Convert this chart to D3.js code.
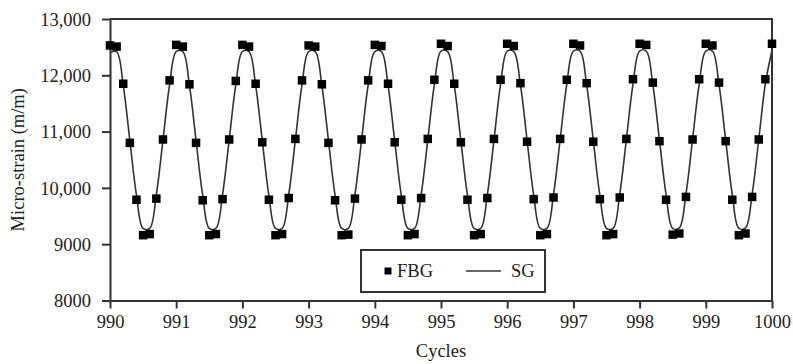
<!DOCTYPE html>
<html>
<head>
<meta charset="utf-8">
<script src="https://cdn.jsdelivr.net/npm/d3@7"></script>
<style>
  html, body { margin: 0; padding: 0; background: #fff; }
  svg text { font-family: "Liberation Serif", "DejaVu Serif", serif; fill: #222; }
</style>
</head>
<body>
<div id="chart"></div>
<script>
// cycle numbers, each sampled at ten phases
const cycles = [990, 991, 992, 993, 994, 995, 996, 997, 998, 999];
const phases = [0, 0.1, 0.2, 0.3, 0.4, 0.5, 0.6, 0.7, 0.8, 0.9];

// FBG readings (micro-strain), one row per cycle
const fbgValues = [
  [12530, 12510, 11850, 10800, 9790, 9160, 9180, 9810, 10860, 11910],
  [12540, 12510, 11840, 10800, 9780, 9160, 9180, 9800, 10860, 11900],
  [12540, 12510, 11850, 10810, 9790, 9160, 9180, 9820, 10870, 11910],
  [12530, 12510, 11840, 10800, 9780, 9160, 9170, 9810, 10860, 11910],
  [12540, 12520, 11850, 10810, 9790, 9160, 9180, 9820, 10870, 11920],
  [12560, 12520, 11850, 10810, 9790, 9160, 9180, 9820, 10870, 11920],
  [12560, 12520, 11860, 10820, 9800, 9160, 9180, 9830, 10870, 11920],
  [12560, 12530, 11860, 10820, 9800, 9160, 9180, 9830, 10870, 11930],
  [12560, 12540, 11870, 10830, 9790, 9170, 9190, 9840, 10860, 11930],
  [12560, 12530, 11870, 10830, 9790, 9160, 9190, 9840, 10860, 11930]
];
const fbgLast = { cycle: 1000, value: 12560 };

// SG readings (micro-strain), same sampling
const sgValues = [
  [12400, 12420, 11820, 10840, 9870, 9280, 9280, 9880, 10850, 11830],
  [12420, 12420, 11820, 10840, 9870, 9280, 9280, 9880, 10850, 11830],
  [12420, 12420, 11820, 10840, 9870, 9280, 9280, 9880, 10850, 11830],
  [12420, 12420, 11820, 10840, 9870, 9280, 9280, 9880, 10850, 11830],
  [12420, 12420, 11820, 10840, 9870, 9280, 9280, 9880, 10850, 11840],
  [12430, 12420, 11820, 10840, 9870, 9280, 9280, 9880, 10850, 11840],
  [12430, 12420, 11830, 10850, 9870, 9280, 9280, 9890, 10860, 11840],
  [12430, 12430, 11830, 10850, 9870, 9280, 9280, 9890, 10860, 11840],
  [12430, 12430, 11830, 10850, 9880, 9280, 9290, 9890, 10860, 11840],
  [12430, 12430, 11830, 10850, 9880, 9280, 9290, 9890, 10860, 11850]
];
const sgLast = { cycle: 1000, value: 12440 };

const xTicks = [990, 991, 992, 993, 994, 995, 996, 997, 998, 999, 1000];
const yTicks = [8000, 9000, 10000, 11000, 12000, 13000];

const width = 793, height = 364;
const margin = { top: 19, right: 21, bottom: 63.5, left: 110 };
const ink = '#333';

const fbg = [];
const sg = [];
cycles.forEach((c, i) => {
  phases.forEach((p, j) => {
    fbg.push({ x: c + p, y: fbgValues[i][j] });
    sg.push({ x: c + p, y: sgValues[i][j] });
  });
});
fbg.push({ x: fbgLast.cycle, y: fbgLast.value });
sg.push({ x: sgLast.cycle, y: sgLast.value });

const svg = d3.select('#chart').append('svg')
  .attr('width', width)
  .attr('height', height);

const x = d3.scaleLinear().domain([990, 1000]).range([margin.left, width - margin.right]);
const y = d3.scaleLinear().domain([8000, 13000]).range([height - margin.bottom, margin.top]);

const fmt = d => d >= 10000 ? d3.format(',')(d) : String(d);

// frame (top and right)
svg.append('path')
  .attr('d', `M${x(990)},${y(13000)}H${x(1000)}V${y(8000)}`)
  .attr('fill', 'none')
  .attr('stroke', ink)
  .attr('stroke-width', 2);

const xAxis = svg.append('g')
  .attr('transform', `translate(0,${y(8000)})`)
  .call(d3.axisBottom(x).tickValues(xTicks).tickFormat(d3.format('d')).tickSize(8).tickSizeOuter(0));

const yAxis = svg.append('g')
  .attr('transform', `translate(${x(990)},0)`)
  .call(d3.axisLeft(y).tickValues(yTicks).tickFormat(fmt).tickSize(8).tickSizeOuter(0));

[xAxis, yAxis].forEach(g => {
  g.select('.domain').attr('stroke', ink).attr('stroke-width', 2);
  g.selectAll('.tick line').attr('stroke', ink).attr('stroke-width', 2);
  g.selectAll('.tick text')
    .attr('font-family', '"Liberation Serif", serif')
    .attr('font-size', 18.5)
    .attr('fill', '#222');
});
xAxis.selectAll('.tick text').attr('dy', '0.71em').attr('y', 14);
yAxis.selectAll('.tick text').attr('x', -19).attr('dy', '0.33em');

// SG line
svg.append('path')
  .datum(sg)
  .attr('fill', 'none')
  .attr('stroke', ink)
  .attr('stroke-width', 1.6)
  .attr('d', d3.line().x(d => x(d.x)).y(d => y(d.y)).curve(d3.curveCatmullRom));

// FBG markers
const s = 8.5;
svg.append('g').selectAll('rect')
  .data(fbg)
  .enter()
  .append('rect')
  .attr('x', d => x(d.x) - s / 2)
  .attr('y', d => y(d.y) - s / 2)
  .attr('width', s)
  .attr('height', s)
  .attr('fill', '#000');

// axis titles
svg.append('text')
  .attr('x', (x(990) + x(1000)) / 2)
  .attr('y', 357)
  .attr('text-anchor', 'middle')
  .attr('font-size', 18.5)
  .text('Cycles');

svg.append('text')
  .attr('transform', `translate(24,${(y(8000) + y(13000)) / 2}) rotate(-90)`)
  .attr('text-anchor', 'middle')
  .attr('font-size', 18.5)
  .text('Micro-strain (m/m)');

// legend
const legend = svg.append('g').attr('transform', 'translate(361,250)');
legend.append('rect')
  .attr('width', 184)
  .attr('height', 42)
  .attr('fill', '#fff')
  .attr('stroke', ink)
  .attr('stroke-width', 2);
legend.append('rect')
  .attr('x', 23.5).attr('y', 17.5)
  .attr('width', 7).attr('height', 7)
  .attr('fill', '#000');
legend.append('text')
  .attr('x', 36).attr('y', 21).attr('dy', '0.35em')
  .attr('font-size', 18.5)
  .text('FBG');
legend.append('line')
  .attr('x1', 105).attr('x2', 140)
  .attr('y1', 21).attr('y2', 21)
  .attr('stroke', ink).attr('stroke-width', 1.6);
legend.append('text')
  .attr('x', 150).attr('y', 21).attr('dy', '0.35em')
  .attr('font-size', 18.5)
  .text('SG');
</script>
</body>
</html>
